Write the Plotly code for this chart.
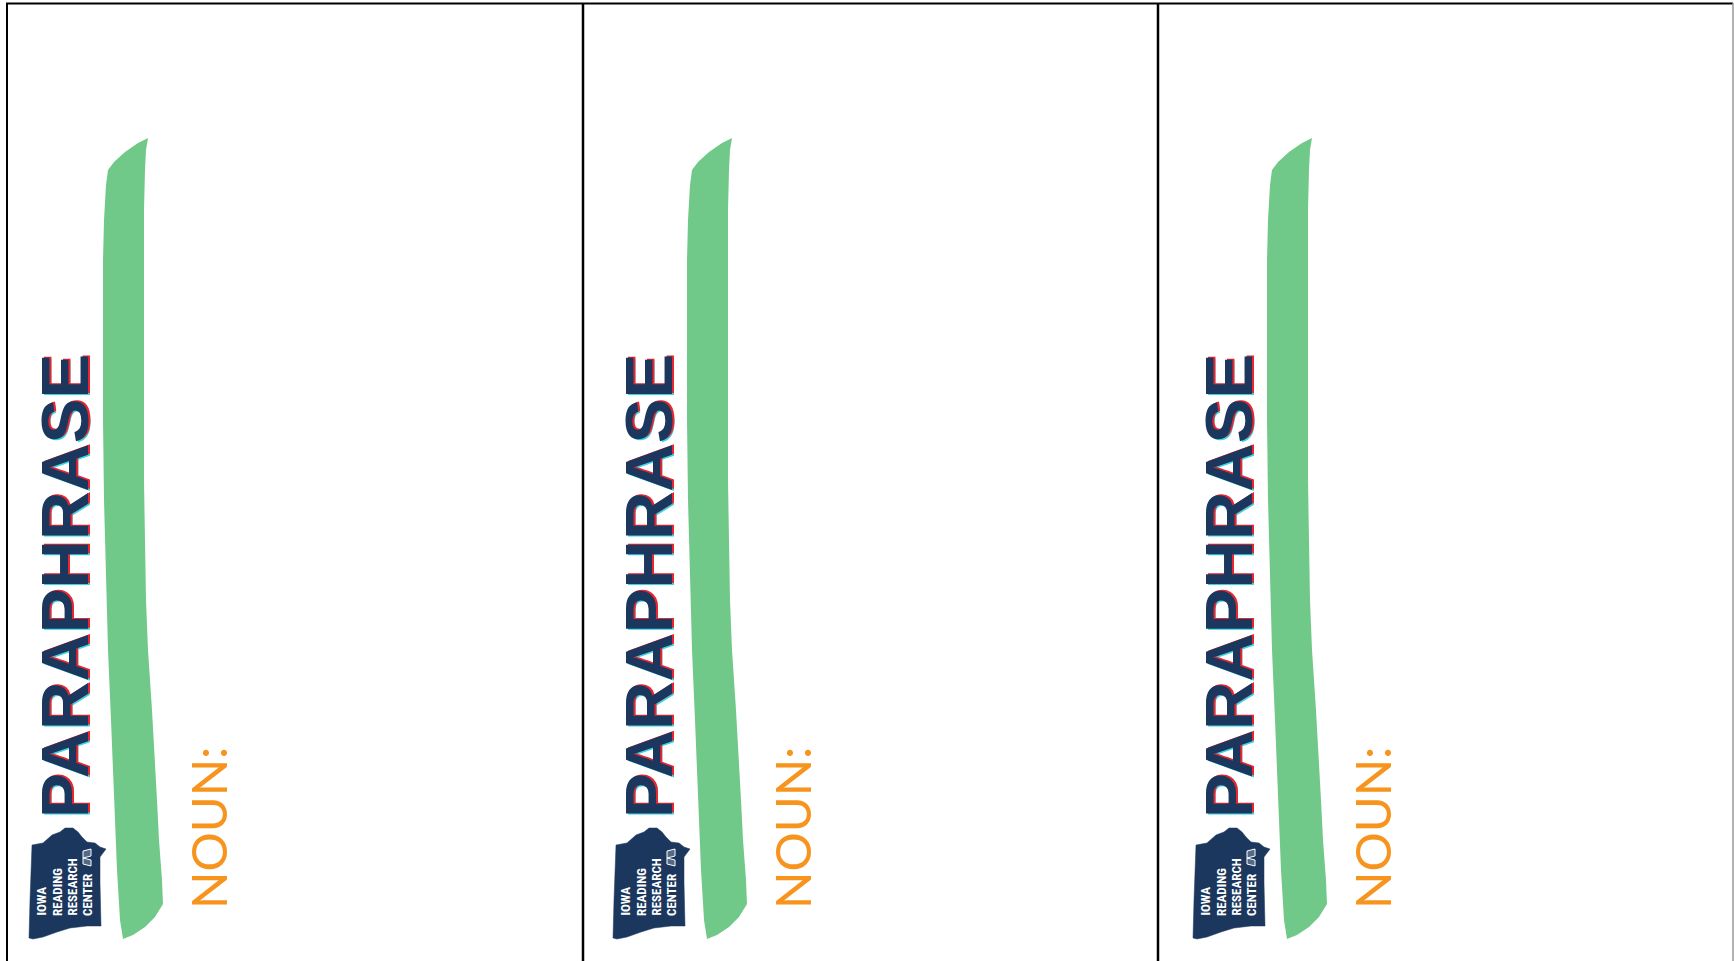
import plotly.graph_objects as go

# ---- layout data ----
W, H = 1734, 961
panel_offsets = [0, 584, 1164]
panel_dividers = [583, 1158]

# green brush stroke outline (panel 1 coordinates, px)
stroke_x = [148, 138, 125, 114, 108, 106, 104, 103, 103, 103, 104, 106, 108, 111, 114, 117, 120, 123,
            133, 145, 155, 163, 162, 159, 157, 155, 152, 148, 146, 145, 144, 144, 144, 144, 144, 145, 146, 148]
stroke_y = [138, 143, 152, 162, 170, 185, 220, 260, 330, 420, 500, 580, 650, 720, 800, 870, 920, 939,
            935, 927, 917, 904, 880, 840, 800, 760, 710, 650, 600, 540, 480, 400, 330, 260, 210, 170, 150, 138]

# Iowa-shaped logo outline (rotated)
logo_x = [32, 43, 52, 60, 65, 73, 78, 82, 87, 95, 100, 106, 103, 100, 100, 101, 87, 70, 57, 43, 33, 29, 30, 32]
logo_y = [845, 843, 835, 832, 828, 828, 832, 837, 842, 843, 847, 849, 853, 857, 883, 926, 926, 928, 932, 937, 939, 938, 900, 845]

logo_lines = ["IOWA", "READING", "RESEARCH", "CENTER"]
logo_line_x = [41, 57, 72, 87]

title_text = "PARAPHRASE"
label_text = "NOUN:"

GREEN = "#71C989"
NAVY = "#1B375E"
RED = "#E8262F"
CYAN = "#33D6E8"
ORANGE = "#F7941E"

fig = go.Figure()
annotations = []
shapes = []

for off in panel_offsets:
    # green stroke
    fig.add_trace(go.Scatter(x=[v + off for v in stroke_x], y=stroke_y, mode="lines",
                             fill="toself", fillcolor=GREEN, line=dict(width=0, color=GREEN),
                             hoverinfo="skip"))
    # logo
    fig.add_trace(go.Scatter(x=[v + off for v in logo_x], y=logo_y, mode="lines",
                             fill="toself", fillcolor=NAVY, line=dict(width=0.5, color=NAVY),
                             hoverinfo="skip"))
    # small book icon
    shapes.append(dict(type="path", xref="x", yref="y",
                       path=f"M {83+off},851 L {91+off},849 L {91+off},856 L {83+off},858 Z "
                            f"M {83+off},858 L {91+off},860 L {91+off},866 L {83+off},864 Z",
                       line=dict(color="white", width=1), fillcolor="rgba(255,255,255,0.25)"))
    for txt, lx in zip(logo_lines, logo_line_x):
        annotations.append(dict(x=lx + off, y=918, xref="x", yref="y", text=f"<b>{txt}</b>",
                                textangle=-90, showarrow=False, xanchor="center", yanchor="bottom",
                                font=dict(family="Liberation Sans Narrow, Roboto Condensed, Liberation Sans, Arial",
                                          size=13, color="white")))
    # PARAPHRASE with offset colour shadows
    for col, dx, dy in [(CYAN, 2, -1), (RED, 2, 1), (NAVY, 0, 0)]:
        annotations.append(dict(x=64 + off, y=586, xref="x", yref="y", text=f"<b>{title_text}</b>",
                                textangle=-90, showarrow=False, xanchor="center", yanchor="middle",
                                xshift=dx, yshift=dy,
                                font=dict(family="Liberation Sans, Arial", size=67, color=col)))
    # NOUN:
    annotations.append(dict(x=208 + off, y=828, xref="x", yref="y", text=label_text,
                            textangle=-90, showarrow=False, xanchor="center", yanchor="middle",
                            font=dict(family="Lato, Open Sans", size=49, color=ORANGE)))

# borders
shapes.append(dict(type="line", xref="x", yref="y", x0=6, x1=1733, y0=3.5, y1=3.5,
                   line=dict(color="black", width=2)))
shapes.append(dict(type="line", xref="x", yref="y", x0=7, x1=7, y0=3, y1=H,
                   line=dict(color="black", width=2)))
for dxv in panel_dividers:
    shapes.append(dict(type="line", xref="x", yref="y", x0=dxv, x1=dxv, y0=3, y1=H,
                       line=dict(color="black", width=2.5)))
shapes.append(dict(type="line", xref="x", yref="y", x0=1733, x1=1733, y0=3, y1=H,
                   line=dict(color="#999999", width=1.5)))

fig.update_layout(
    width=W, height=H, margin=dict(l=0, r=0, t=0, b=0),
    paper_bgcolor="white", plot_bgcolor="white", showlegend=False,
    xaxis=dict(range=[0, W], visible=False, fixedrange=True),
    yaxis=dict(range=[H, 0], visible=False, fixedrange=True),
    annotations=annotations, shapes=shapes,
)

fig.write_html("out.html", config={"displayModeBar": False},
               post_script="document.body.style.margin='0';document.body.style.overflow='hidden';")
